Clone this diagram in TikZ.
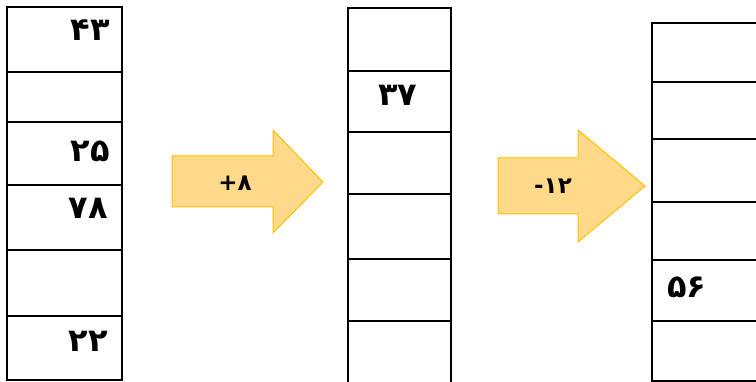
\documentclass[tikz,border=0pt]{standalone}
\usepackage{fontspec}
\newfontfamily\fa{DejaVu Sans}
\definecolor{arrowfill}{HTML}{FFD98A}
\definecolor{arrowline}{HTML}{FFC000}
\begin{document}
\begin{tikzpicture}[x=1pt,y=-1pt,
  cell/.style={draw=black, line width=2.4pt, inner sep=0pt, anchor=north west},
  num/.style={font=\fa\bfseries\fontsize{32}{34}\selectfont, inner sep=0pt},
  oplabel/.style={font=\fa\bfseries\fontsize{23}{25}\selectfont, inner sep=0pt},
  bigarrow/.style={fill=arrowfill, draw=arrowline, line width=1pt, line join=miter}]
\useasboundingbox (0,0) rectangle (756,382);
\clip (0,0) rectangle (756,382);
% column 1
\node[cell, minimum width=115pt, minimum height=65pt] (a1) at (6,6) {};
\node[cell, minimum width=115pt, minimum height=50pt] (a2) at (6,71) {};
\node[cell, minimum width=115pt, minimum height=63pt] (a3) at (6,121) {};
\node[cell, minimum width=115pt, minimum height=65pt] (a4) at (6,184) {};
\node[cell, minimum width=115pt, minimum height=66pt] (a5) at (6,249) {};
\node[cell, minimum width=115pt, minimum height=64pt] (a6) at (6,315) {};
\node[num, anchor=east] (t43) at (110,30) {۴۳};
\node[num, anchor=east] (t25) at (110,151) {۲۵};
\node[num, anchor=east] (t78) at (108,208) {۷۸};
\node[num, anchor=east] (t22) at (108,341) {۲۲};
% column 2
\node[cell, minimum width=103pt, minimum height=63pt] (b1) at (347,7) {};
\node[cell, minimum width=103pt, minimum height=61pt] (b2) at (347,70) {};
\node[cell, minimum width=103pt, minimum height=62pt] (b3) at (347,131) {};
\node[cell, minimum width=103pt, minimum height=65pt] (b4) at (347,193) {};
\node[cell, minimum width=103pt, minimum height=62pt] (b5) at (347,258) {};
\node[cell, minimum width=103pt, minimum height=70pt] (b6) at (347,320) {};
\node[num] (t37) at (398,95) {۳۷};
% column 3
\node[cell, minimum width=115pt, minimum height=59pt] (c1) at (651,22) {};
\node[cell, minimum width=115pt, minimum height=57pt] (c2) at (651,81) {};
\node[cell, minimum width=115pt, minimum height=63pt] (c3) at (651,138) {};
\node[cell, minimum width=115pt, minimum height=58pt] (c4) at (651,201) {};
\node[cell, minimum width=115pt, minimum height=61pt] (c5) at (651,259) {};
\node[cell, minimum width=115pt, minimum height=60pt] (c6) at (651,320) {};
\node[num, anchor=west] (t56) at (667,287) {۵۶};
% arrows
\draw[bigarrow] (172,156) -- (273,156) -- (273,130) -- (323,182) -- (273,233) -- (273,207) -- (172,207) -- cycle;
\node[oplabel] (op1) at (235,183) {+۸};
\draw[bigarrow] (498,158) -- (578,158) -- (578,130) -- (645,186) -- (578,242) -- (578,214) -- (498,214) -- cycle;
\node[oplabel] (op2) at (553,186) {-۱۲};
\end{tikzpicture}
\end{document}
